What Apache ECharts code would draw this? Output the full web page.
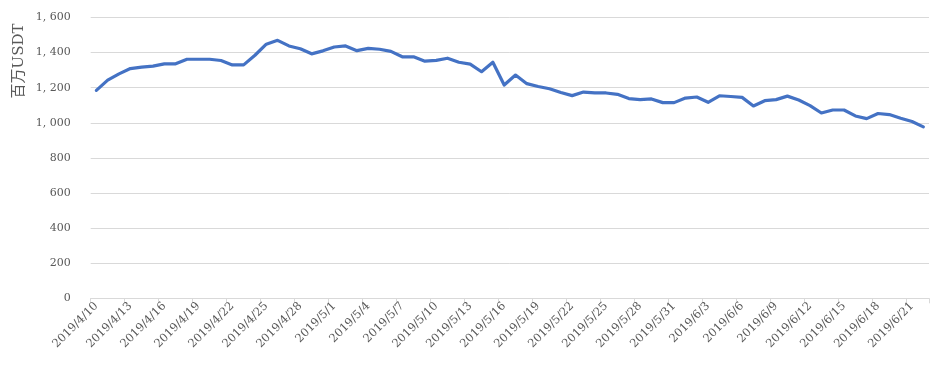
<!DOCTYPE html>
<html>
<head>
<meta charset="utf-8">
<script src="https://cdn.jsdelivr.net/npm/echarts@6/dist/echarts.min.js"></script>
<style>
html,body{margin:0;padding:0;background:#fff;}
#chart{width:950px;height:372px;}
</style>
</head>
<body>
<div id="chart"></div>
<script>
var categories = [
  "2019/4/10","2019/4/11","2019/4/12","2019/4/13","2019/4/14","2019/4/15","2019/4/16","2019/4/17","2019/4/18","2019/4/19",
  "2019/4/20","2019/4/21","2019/4/22","2019/4/23","2019/4/24","2019/4/25","2019/4/26","2019/4/27","2019/4/28","2019/4/29",
  "2019/4/30","2019/5/1","2019/5/2","2019/5/3","2019/5/4","2019/5/5","2019/5/6","2019/5/7","2019/5/8","2019/5/9",
  "2019/5/10","2019/5/11","2019/5/12","2019/5/13","2019/5/14","2019/5/15","2019/5/16","2019/5/17","2019/5/18","2019/5/19",
  "2019/5/20","2019/5/21","2019/5/22","2019/5/23","2019/5/24","2019/5/25","2019/5/26","2019/5/27","2019/5/28","2019/5/29",
  "2019/5/30","2019/5/31","2019/6/1","2019/6/2","2019/6/3","2019/6/4","2019/6/5","2019/6/6","2019/6/7","2019/6/8",
  "2019/6/9","2019/6/10","2019/6/11","2019/6/12","2019/6/13","2019/6/14","2019/6/15","2019/6/16","2019/6/17","2019/6/18",
  "2019/6/19","2019/6/20","2019/6/21","2019/6/22"
];
var values = [
  1185,1243,1279,1309,1317,1323,1336,1336,1362,1362,
  1362,1355,1330,1330,1385,1448,1470,1438,1422,1393,
  1410,1432,1438,1411,1424,1419,1407,1376,1376,1351,
  1356,1368,1345,1334,1291,1345,1215,1272,1223,1207,
  1194,1173,1155,1175,1170,1170,1162,1138,1132,1136,
  1115,1115,1141,1147,1117,1154,1150,1145,1096,1126,
  1132,1152,1130,1098,1056,1073,1073,1039,1024,1053,
  1047,1026,1007,977
];
var yAxisName = "百万USDT";
var yMin = 0, yMax = 1600, yStep = 200;

var chart = echarts.init(document.getElementById('chart'), null, {renderer:'canvas'});
var serif = '"DejaVu Serif","Noto Sans CJK SC",serif';
chart.setOption({
  animation:false,
  backgroundColor:'#ffffff',
  grid:{left:90.7, right:21, top:17.5, bottom:73.7, containLabel:false},
  graphic:[{
    type:'text', x:19, y:61, rotation:Math.PI/2,
    style:{text:yAxisName, fill:'#595959', font:'15px ' + serif, textAlign:'center', textVerticalAlign:'middle'}
  }],
  xAxis:{
    type:'category', data:categories, boundaryGap:true,
    axisLine:{lineStyle:{color:'#d9d9d9', width:1}},
    axisTick:{show:true, interval:2, length:5, lineStyle:{color:'#d9d9d9'}},
    axisLabel:{interval:2, rotate:45, color:'#595959', fontSize:11.5, fontFamily:serif, margin:6}
  },
  yAxis:{
    type:'value', min:yMin, max:yMax, interval:yStep,
    axisLine:{show:false}, axisTick:{show:false},
    splitLine:{lineStyle:{color:'#d9d9d9', width:1}},
    axisLabel:{color:'#595959', fontSize:11, fontFamily:serif, margin:20,
      formatter:function(v){ var s=String(v); if(v>=1000){ s = s.slice(0,s.length-3)+', '+s.slice(-3);} return s; }}
  },
  series:[{
    type:'line', data:values, symbol:'none', smooth:false,
    lineStyle:{color:'#4472C4', width:3.2, join:'round', cap:'round'},
    itemStyle:{color:'#4472C4'}
  }]
});
</script>
</body>
</html>
